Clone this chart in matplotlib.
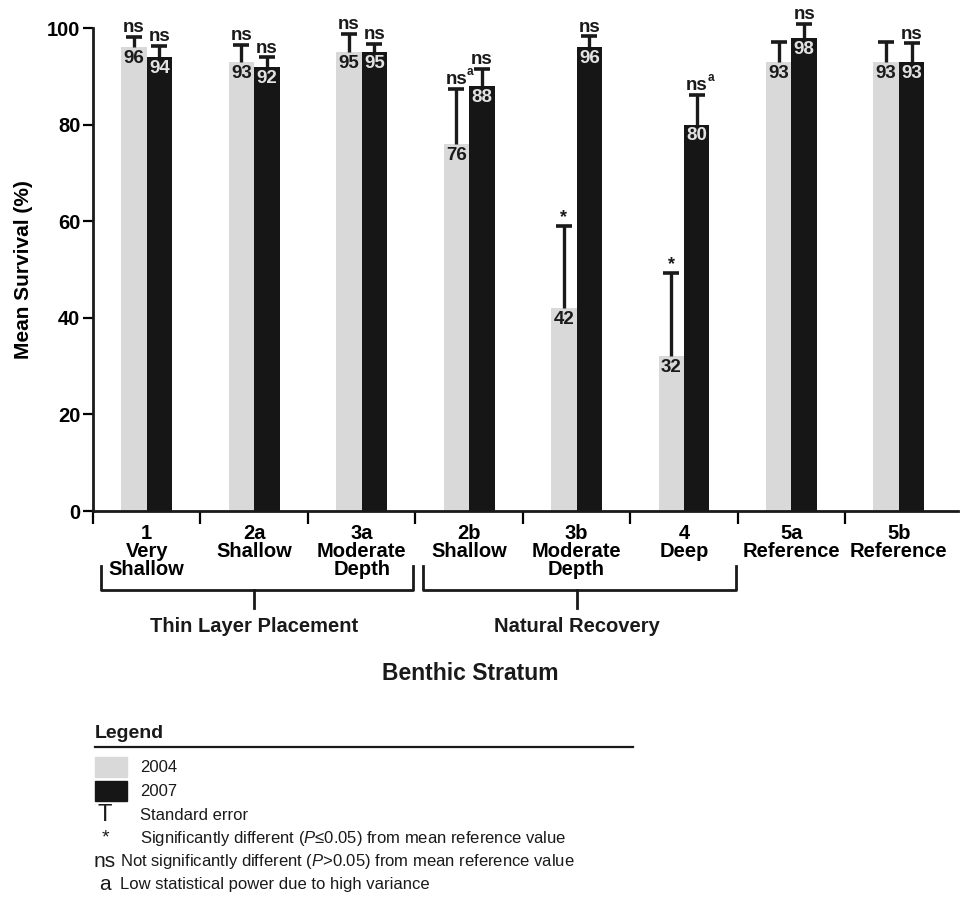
import matplotlib
matplotlib.use("Agg")
import matplotlib.pyplot as plt
from matplotlib.lines import Line2D
from matplotlib.patches import Rectangle
import numpy as np

plt.rcParams['font.family'] = ['Liberation Sans', 'DejaVu Sans']
plt.rcParams['mathtext.fontset'] = 'custom'
plt.rcParams['mathtext.rm'] = 'Liberation Sans'
plt.rcParams['mathtext.it'] = 'Liberation Sans:italic'

# survival data per benthic stratum
strata = ["1\nVery\nShallow", "2a\nShallow", "3a\nModerate\nDepth", "2b\nShallow",
          "3b\nModerate\nDepth", "4\nDeep", "5a\nReference", "5b\nReference"]
surv_2004 = [96, 93, 95, 76, 42, 32, 93, 93]
surv_2007 = [94, 92, 95, 88, 96, 80, 98, 93]
se_2004 = [2.2, 3.5, 3.8, 11.4, 17.0, 17.2, 4.2, 4.0]
se_2007 = [2.3, 1.9, 1.7, 3.5, 2.3, 6.1, 2.8, 3.8]
sig_2004 = ["ns", "ns", "ns", "ns^a", "*", "*", "", ""]
sig_2007 = ["ns", "ns", "ns", "ns", "ns", "ns^a", "ns", "ns"]

groups = [("Thin Layer Placement", 0, 2), ("Natural Recovery", 3, 5)]

LIGHT = "#d9d9d9"
DARK = "#161616"
INK = "#1a1a1a"

fig = plt.figure(figsize=(9.6, 9.05), dpi=100)
ax = fig.add_axes([93 / 960, 1 - 511 / 905, 865 / 960, 483 / 905])

x = np.arange(len(strata))
w = 0.237
x04 = x - w / 2
x07 = x + w / 2

ax.bar(x04, surv_2004, w, color=LIGHT, zorder=2)
ax.bar(x07, surv_2007, w, color=DARK, zorder=2)

# upper standard error only: hide the cap that sits on the bar top
for xs, vals, se in [(x04, surv_2004, se_2004), (x07, surv_2007, se_2007)]:
    eb = ax.errorbar(xs, vals, yerr=[np.zeros(len(vals)), se], fmt='none',
                     ecolor=INK, elinewidth=2.4, capsize=6, capthick=2.6, zorder=3)
    lower_cap, upper_cap = eb.lines[1]
    lower_cap.set_visible(False)
    upper_cap.set_clip_on(False)
    for art in eb.lines[2]:
        art.set_clip_on(False)

# value labels inside bar tops
for xs, vals, col in [(x04, surv_2004, INK), (x07, surv_2007, "#e2e2e2")]:
    for xi, v in zip(xs, vals):
        ax.text(xi, v - 0.6, f"{v}", ha='center', va='top', fontsize=13.5,
                fontweight='bold', color=col, zorder=4)

# significance marks above the error bars
for xs, vals, se, marks in [(x04, surv_2004, se_2004, sig_2004),
                            (x07, surv_2007, se_2007, sig_2007)]:
    for xi, v, s, m in zip(xs, vals, se, marks):
        if not m:
            continue
        top = v + s
        if m == "*":
            ax.annotate("*", (xi, top), xytext=(0, 0), textcoords='offset points',
                        ha='center', va='bottom', fontsize=13, fontweight='bold',
                        color=INK, annotation_clip=False)
        else:
            ax.annotate("ns", (xi, top), xytext=(0, 0.5), textcoords='offset points',
                        ha='center', va='bottom', fontsize=13.5, fontweight='bold',
                        color=INK, annotation_clip=False)
            if m.endswith("^a"):
                ax.annotate("a", (xi, top), xytext=(7.5, 8), textcoords='offset points',
                            ha='left', va='bottom', fontsize=8.5, fontweight='bold',
                            color=INK, annotation_clip=False)

ax.set_ylim(0, 100)
ax.set_xlim(-0.5, 7.55)
ax.set_yticks(range(0, 101, 20))
ax.set_yticklabels([str(v) for v in range(0, 101, 20)], fontsize=14.5, fontweight='bold')
ax.tick_params(axis='y', length=7, width=1.6, pad=2)

ax.set_xticks(np.arange(-0.5, 7, 1.0))
ax.set_xticklabels([])
ax.tick_params(axis='x', which='major', length=9, width=1.6, direction='out')
ax.set_xticks(x, minor=True)
ax.set_xticklabels(strata, minor=True, fontsize=14.5, fontweight='bold')
ax.tick_params(axis='x', which='minor', length=0, pad=9)
for lab in ax.get_xticklabels(minor=True):
    lab.set_linespacing(0.95)

for side in ['top', 'right']:
    ax.spines[side].set_visible(False)
for side in ['left', 'bottom']:
    ax.spines[side].set_linewidth(2)
    ax.spines[side].set_color(INK)

ax.set_ylabel("Mean Survival (%)", fontsize=15, fontweight='bold', labelpad=10)

# brackets grouping the strata by treatment
tr = ax.get_xaxis_transform()
y_end, y_bar, y_stem, y_txt = -0.114, -0.164, -0.201, -0.240
for name, i0, i1 in groups:
    xl, xr = i0 - 0.43, i1 + 0.48
    xm = (i0 + i1) / 2
    ax.add_line(Line2D([xl, xl, xr, xr], [y_end, y_bar, y_bar, y_end], transform=tr,
                       color=INK, lw=2, clip_on=False))
    ax.add_line(Line2D([xm, xm], [y_bar, y_stem], transform=tr,
                       color=INK, lw=2, clip_on=False))
    ax.text(xm, y_txt, name, transform=tr, ha='center', va='center',
            fontsize=14.5, fontweight='bold', color=INK)

fig.text(470 / 960, 1 - 673 / 905, "Benthic Stratum", ha='center', va='center',
         fontsize=16.5, fontweight='bold', color=INK)

# legend block
def fy(p):
    return 1 - p / 905

fig.text(95 / 960, fy(733), "Legend", ha='left', va='center', fontsize=14,
         fontweight='bold', color=INK)
fig.add_artist(Line2D([95 / 960, 633 / 960], [fy(747), fy(747)], color=INK, lw=1.6))
for y0, col, lab in [(757, LIGHT, "2004"), (781, DARK, "2007")]:
    fig.add_artist(Rectangle((95 / 960, fy(y0 + 20)), 32 / 960, 20 / 905,
                             transform=fig.transFigure, color=col))
    fig.text(140 / 960, fy(y0 + 10), lab, ha='left', va='center', fontsize=12, color=INK)

keys = [("T", 815, 17, "Standard error"),
        ("*", 838, 14, r"Significantly different ($\mathit{P}$≤0.05) from mean reference value"),
        ("ns", 861, 15, r"Not significantly different ($\mathit{P}$>0.05) from mean reference value"),
        ("a", 884, 15, "Low statistical power due to high variance")]
for sym, yp, fs, desc in keys:
    fig.text(105 / 960, fy(yp), sym, ha='center', va='center', fontsize=fs, color=INK)
    xt = 140 if sym in ("T", "*") else 120
    fig.text(xt / 960, fy(yp), desc, ha='left', va='center', fontsize=12, color=INK)

fig.savefig("out.png", dpi=100)
